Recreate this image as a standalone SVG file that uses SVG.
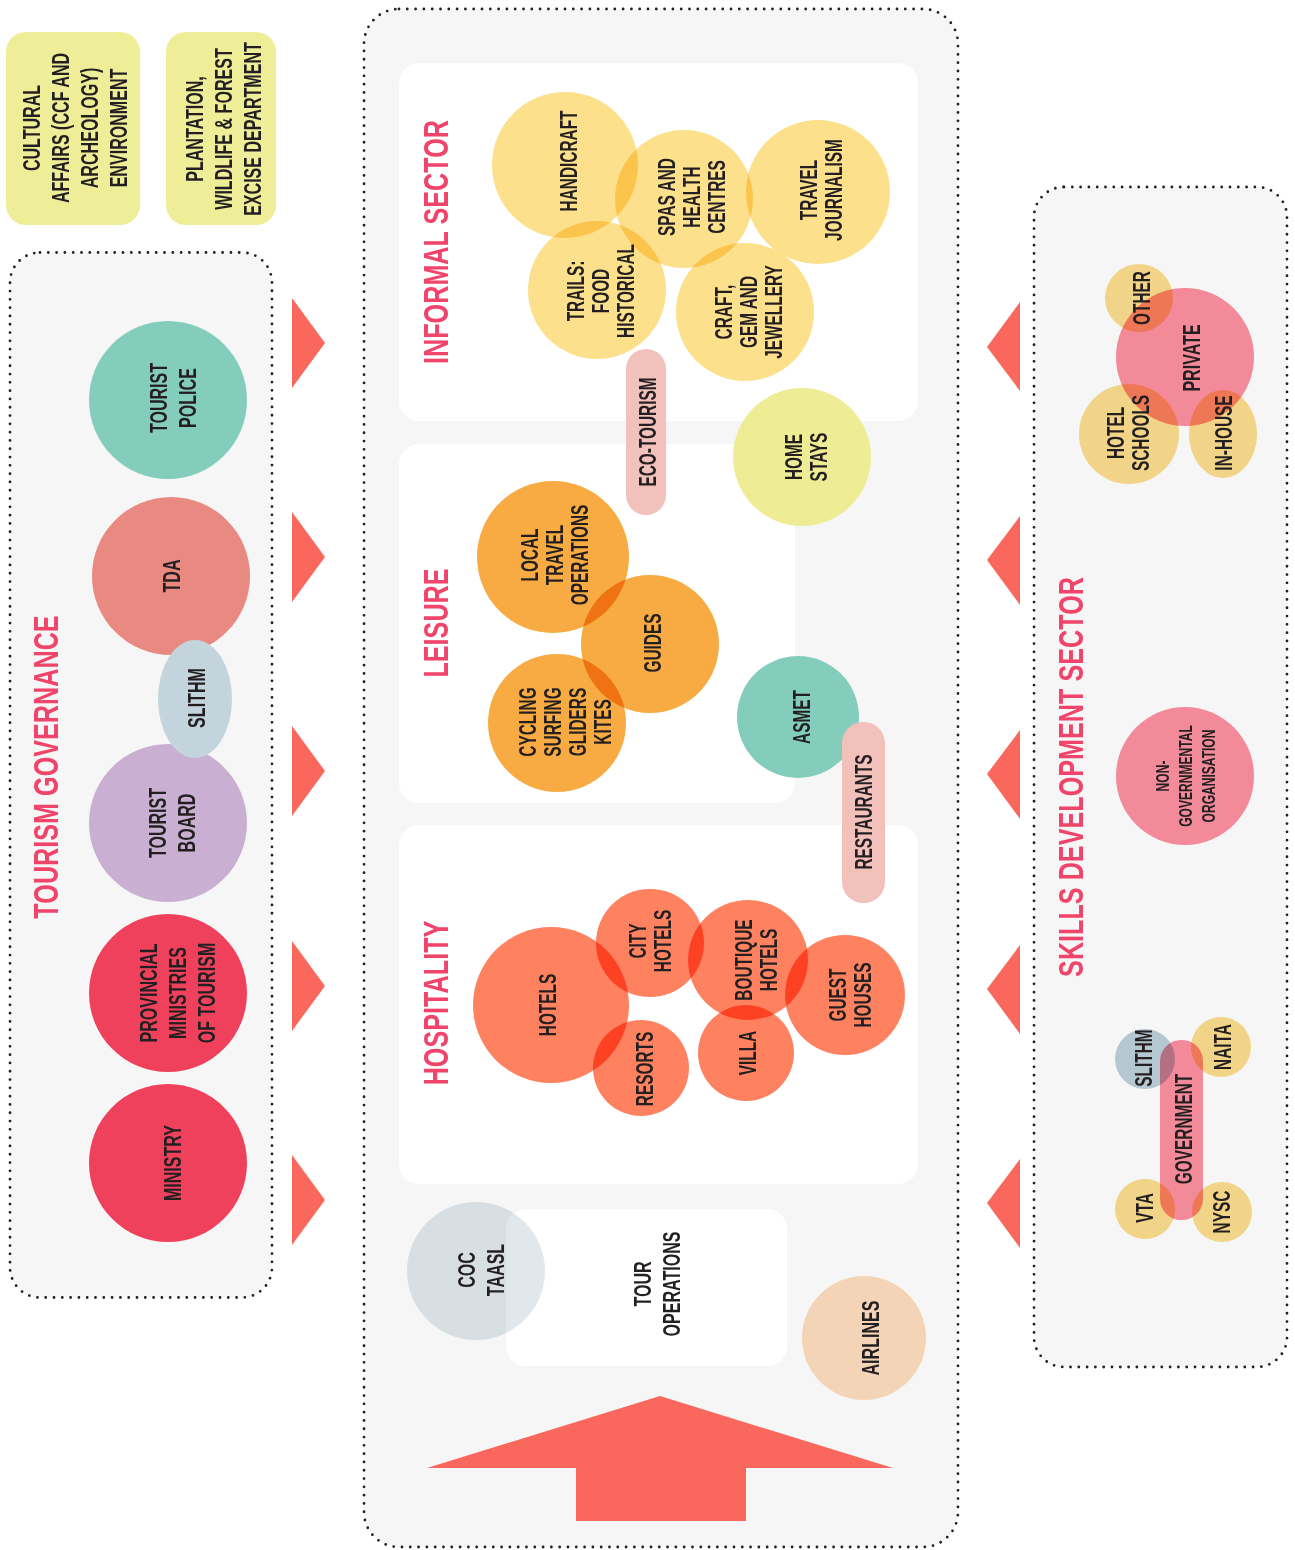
<svg xmlns="http://www.w3.org/2000/svg" width="1295" height="1550" viewBox="0 0 1295 1550">
<style>
text{font-family:"Liberation Sans",Arial,sans-serif;fill:#231f20;text-anchor:middle}
.l{font-size:23px;font-weight:bold}
.l2{font-size:24px;font-weight:bold}
.l3{font-size:18px;font-weight:bold}
.t{font-size:36px;font-weight:bold;fill:#f0446a}
.dot{fill:#f6f6f6;stroke:#231f20;stroke-width:2.8;stroke-dasharray:0 8.3;stroke-linecap:round}
.wb{fill:#ffffff}
.m{mix-blend-mode:multiply}
.yel{fill:#fde08c}
.org{fill:#f7ab42}
.hos{fill:#fe8160}
.pill{fill:#f2c1bb}
.pk{fill:#fc8fa0}
.yl2{fill:#fadc8c}
.arr{fill:#fa675d}
</style>

<!-- top boxes -->
<g id="cultural-affairs">
<rect x="6" y="32" width="134" height="193" rx="20" fill="#eeed98"/>
<text class="l2" transform="translate(75,128) rotate(-90) scale(0.67,1)"><tspan x="0" y="-34.9">CULTURAL</tspan><tspan x="0" y="-5.9">AFFAIRS (CCF AND</tspan><tspan x="0" y="23.1">ARCHEOLOGY)</tspan><tspan x="0" y="52.1">ENVIRONMENT</tspan></text>
</g>
<g id="plantation">
<rect x="166" y="32" width="110" height="193" rx="20" fill="#eeed98"/>
<text class="l2" transform="translate(223,129) rotate(-90) scale(0.67,1)"><tspan x="0" y="-20.4">PLANTATION,</tspan><tspan x="0" y="8.6">WILDLIFE &amp; FOREST</tspan><tspan x="0" y="37.6">EXCISE DEPARTMENT</tspan></text>
</g>

<!-- containers -->
<g id="tourism-governance">
<rect class="dot" x="10" y="252.5" width="262" height="1045" rx="30"/>
<text class="t" transform="translate(45,767) rotate(-90) scale(0.7,1)" x="0" y="12.9">TOURISM GOVERNANCE</text>
</g>
<g id="industry">
<rect class="dot" x="364" y="9" width="594" height="1538" rx="35"/>
</g>
<g id="skills-development-sector">
<rect class="dot" x="1034" y="187" width="253" height="1180" rx="30"/>
<text class="t" transform="translate(1070,777) rotate(-90) scale(0.7,1)" x="0" y="12.9">SKILLS DEVELOPMENT SECTOR</text>
</g>

<!-- governance nodes -->
<g id="tourist-police"><circle cx="168" cy="400" r="79" fill="#84cdbd"/>
<text class="l2" transform="translate(173,398) rotate(-90) scale(0.67,1)"><tspan x="0" y="-5.9">TOURIST</tspan><tspan x="0" y="23.1">POLICE</tspan></text></g>
<g id="tda"><circle cx="171" cy="576" r="79" fill="#e88a82"/>
<text class="l2" transform="translate(171,576) rotate(-90) scale(0.67,1)" x="0" y="8.6">TDA</text></g>
<g id="tourist-board"><circle cx="168" cy="823" r="79" fill="#c9b0d3"/>
<text class="l2" transform="translate(172,823) rotate(-90) scale(0.67,1)"><tspan x="0" y="-5.9">TOURIST</tspan><tspan x="0" y="23.1">BOARD</tspan></text></g>
<g id="slithm-gov"><ellipse cx="195" cy="699" rx="37" ry="59" fill="#c3d4dc"/>
<text class="l2" transform="translate(196,698) rotate(-90) scale(0.67,1)" x="0" y="8.6">SLITHM</text></g>
<g id="provincial-ministries"><circle cx="168" cy="993" r="79" fill="#ef405c"/>
<text class="l2" transform="translate(177,993) rotate(-90) scale(0.67,1)"><tspan x="0" y="-20.4">PROVINCIAL</tspan><tspan x="0" y="8.6">MINISTRIES</tspan><tspan x="0" y="37.6">OF TOURISM</tspan></text></g>
<g id="ministry"><circle cx="168" cy="1163" r="79" fill="#ef405c"/>
<text class="l2" transform="translate(172,1163) rotate(-90) scale(0.67,1)" x="0" y="8.6">MINISTRY</text></g>

<!-- informal sector -->
<g id="informal-sector">
<rect class="wb" x="399" y="63" width="519" height="358" rx="20"/>
<text class="t" transform="translate(435,242) rotate(-90) scale(0.7,1)" x="0" y="12.9">INFORMAL SECTOR</text>
</g>
<g id="handicraft"><circle class="m yel" cx="565" cy="165" r="73"/>
<text class="l" transform="translate(569,161) rotate(-90) scale(0.67,1)" x="0" y="8.2">HANDICRAFT</text></g>
<g id="spas"><circle class="m yel" cx="684" cy="199" r="69"/>
<text class="l" transform="translate(692,197) rotate(-90) scale(0.67,1)"><tspan x="0" y="-16.8">SPAS AND</tspan><tspan x="0" y="8.2">HEALTH</tspan><tspan x="0" y="33.2">CENTRES</tspan></text></g>
<g id="travel-journalism"><circle class="m yel" cx="818" cy="192" r="72"/>
<text class="l" transform="translate(821,190) rotate(-90) scale(0.67,1)"><tspan x="0" y="-4.2">TRAVEL</tspan><tspan x="0" y="20.8">JOURNALISM</tspan></text></g>
<g id="trails"><circle class="m yel" cx="597" cy="290" r="69"/>
<text class="l" transform="translate(601,291) rotate(-90) scale(0.67,1)"><tspan x="0" y="-16.8">TRAILS:</tspan><tspan x="0" y="8.2">FOOD</tspan><tspan x="0" y="33.2">HISTORICAL</tspan></text></g>
<g id="craft-gem"><circle class="m yel" cx="745" cy="312" r="69"/>
<text class="l" transform="translate(749,312) rotate(-90) scale(0.67,1)"><tspan x="0" y="-16.8">CRAFT,</tspan><tspan x="0" y="8.2">GEM AND</tspan><tspan x="0" y="33.2">JEWELLERY</tspan></text></g>

<!-- leisure -->
<g id="leisure">
<rect class="wb" x="399" y="444" width="396" height="359" rx="20"/>
<text class="t" transform="translate(435,623) rotate(-90) scale(0.7,1)" x="0" y="12.9">LEISURE</text>
</g>
<g id="home-stays"><circle cx="802" cy="457" r="69" fill="#eeed96"/>
<text class="l" transform="translate(806,457) rotate(-90) scale(0.67,1)"><tspan x="0" y="-4.2">HOME</tspan><tspan x="0" y="20.8">STAYS</tspan></text></g>
<g id="eco-tourism"><rect class="pill" x="626" y="349" width="40" height="166" rx="20"/>
<text class="l" transform="translate(648,432) rotate(-90) scale(0.67,1)" x="0" y="8.2">ECO-TOURISM</text></g>
<g id="local-travel"><circle class="m org" cx="553" cy="557" r="76"/>
<text class="l" transform="translate(555,555) rotate(-90) scale(0.67,1)"><tspan x="0" y="-16.8">LOCAL</tspan><tspan x="0" y="8.2">TRAVEL</tspan><tspan x="0" y="33.2">OPERATIONS</tspan></text></g>
<g id="guides"><circle class="m org" cx="650" cy="644" r="69"/>
<text class="l" transform="translate(653,643) rotate(-90) scale(0.67,1)" x="0" y="8.2">GUIDES</text></g>
<g id="cycling"><circle class="m org" cx="557" cy="723" r="69"/>
<text class="l" transform="translate(565,722) rotate(-90) scale(0.67,1)"><tspan x="0" y="-29.2">CYCLING</tspan><tspan x="0" y="-4.2">SURFING</tspan><tspan x="0" y="20.8">GLIDERS</tspan><tspan x="0" y="45.8">KITES</tspan></text></g>
<g id="asmet"><circle cx="798" cy="717" r="61" fill="#84cdbd"/>
<text class="l" transform="translate(802,717) rotate(-90) scale(0.67,1)" x="0" y="8.2">ASMET</text></g>

<!-- hospitality -->
<g id="hospitality">
<rect class="wb" x="399" y="825" width="519" height="359" rx="20"/>
<text class="t" transform="translate(435,1003) rotate(-90) scale(0.7,1)" x="0" y="12.9">HOSPITALITY</text>
</g>
<g id="restaurants"><rect class="pill" x="842" y="722" width="43" height="181" rx="21"/>
<text class="l" transform="translate(864,812) rotate(-90) scale(0.67,1)" x="0" y="8.2">RESTAURANTS</text></g>
<g id="hotels"><circle class="m hos" cx="551" cy="1005" r="78"/>
<text class="l" transform="translate(548,1005) rotate(-90) scale(0.67,1)" x="0" y="8.2">HOTELS</text></g>
<g id="city-hotels"><circle class="m hos" cx="650" cy="943" r="54"/>
<text class="l" transform="translate(650,941) rotate(-90) scale(0.67,1)"><tspan x="0" y="-4.2">CITY</tspan><tspan x="0" y="20.8">HOTELS</tspan></text></g>
<g id="boutique-hotels"><circle class="m hos" cx="748" cy="960" r="60"/>
<text class="l" transform="translate(756,960) rotate(-90) scale(0.67,1)"><tspan x="0" y="-4.2">BOUTIQUE</tspan><tspan x="0" y="20.8">HOTELS</tspan></text></g>
<g id="guest-houses"><circle class="m hos" cx="845" cy="995" r="60"/>
<text class="l" transform="translate(850,995) rotate(-90) scale(0.67,1)"><tspan x="0" y="-4.2">GUEST</tspan><tspan x="0" y="20.8">HOUSES</tspan></text></g>
<g id="resorts"><circle class="m hos" cx="641" cy="1068" r="48"/>
<text class="l" transform="translate(645,1069) rotate(-90) scale(0.67,1)" x="0" y="8.2">RESORTS</text></g>
<g id="villa"><circle class="m hos" cx="746" cy="1053" r="48"/>
<text class="l" transform="translate(748,1053) rotate(-90) scale(0.67,1)" x="0" y="8.2">VILLA</text></g>

<!-- tour operations -->
<g id="tour-operations"><rect class="wb" x="506" y="1209" width="281" height="157" rx="20"/>
<text class="l2" transform="translate(657,1284) rotate(-90) scale(0.67,1)"><tspan x="0" y="-5.9">TOUR</tspan><tspan x="0" y="23.1">OPERATIONS</tspan></text></g>
<g id="coc-taasl"><circle class="m" cx="476" cy="1271" r="69" fill="#e0e8ec"/>
<text class="l2" transform="translate(481,1270) rotate(-90) scale(0.67,1)"><tspan x="0" y="-5.9">COC</tspan><tspan x="0" y="23.1">TAASL</tspan></text></g>
<g id="airlines"><circle cx="864" cy="1338" r="62" fill="#f4d4b6"/>
<text class="l2" transform="translate(870,1338) rotate(-90) scale(0.67,1)" x="0" y="8.6">AIRLINES</text></g>

<!-- skills nodes -->
<g id="private"><circle class="m pk" cx="1185" cy="357" r="69"/>
<text class="l2" transform="translate(1191,358) rotate(-90) scale(0.67,1)" x="0" y="8.6">PRIVATE</text></g>
<g id="other"><circle class="m yl2" cx="1139" cy="298" r="34"/>
<text class="l" transform="translate(1142,298) rotate(-90) scale(0.67,1)" x="0" y="8.2">OTHER</text></g>
<g id="hotel-schools"><circle class="m yl2" cx="1129" cy="434" r="50"/>
<text class="l" transform="translate(1128,433) rotate(-90) scale(0.67,1)"><tspan x="0" y="-4.2">HOTEL</tspan><tspan x="0" y="20.8">SCHOOLS</tspan></text></g>
<g id="in-house"><ellipse class="m yl2" cx="1223" cy="434" rx="34" ry="44"/>
<text class="l" transform="translate(1224,433) rotate(-90) scale(0.67,1)" x="0" y="8.2">IN-HOUSE</text></g>
<g id="ngo"><circle class="m pk" cx="1185" cy="776" r="69"/>
<text class="l3" transform="translate(1186,776) rotate(-90) scale(0.67,1)"><tspan x="0" y="-16.6">NON-</tspan><tspan x="0" y="6.4">GOVERNMENTAL</tspan><tspan x="0" y="29.4">ORGANISATION</tspan></text></g>
<g id="government"><rect class="m pk" x="1160" y="1040" width="43" height="180" rx="21"/>
<text class="l" transform="translate(1184,1129) rotate(-90) scale(0.67,1)" x="0" y="8.2">GOVERNMENT</text></g>
<g id="slithm-skills"><circle class="m" cx="1145" cy="1059" r="30" fill="#bccfd8"/>
<text class="l" transform="translate(1144,1058) rotate(-90) scale(0.67,1)" x="0" y="8.2">SLITHM</text></g>
<g id="naita"><circle class="m yl2" cx="1221" cy="1047" r="30"/>
<text class="l" transform="translate(1223,1047) rotate(-90) scale(0.67,1)" x="0" y="8.2">NAITA</text></g>
<g id="vta"><circle class="m yl2" cx="1145" cy="1209" r="30"/>
<text class="l" transform="translate(1145,1208) rotate(-90) scale(0.67,1)" x="0" y="8.2">VTA</text></g>
<g id="nysc"><circle class="m yl2" cx="1222" cy="1212" r="30"/>
<text class="l" transform="translate(1222,1212) rotate(-90) scale(0.67,1)" x="0" y="8.2">NYSC</text></g>

<!-- connectors -->
<g id="connectors">
<polygon class="arr" points="292,298 325,343 292,388"/>
<polygon class="arr" points="292,512 325,557 292,602"/>
<polygon class="arr" points="292,726 325,771 292,816"/>
<polygon class="arr" points="292,941 325,986 292,1031"/>
<polygon class="arr" points="292,1155 325,1200 292,1245"/>
<polygon class="arr" points="1020,302 987,347 1020,391"/>
<polygon class="arr" points="1020,516 987,560 1020,605"/>
<polygon class="arr" points="1020,730 987,774 1020,819"/>
<polygon class="arr" points="1020,945 987,989 1020,1034"/>
<polygon class="arr" points="1020,1159 987,1203 1020,1248"/>
<polygon class="arr" points="660,1396 893,1468 746,1468 746,1521 576,1521 576,1468 427,1468"/>
</g>
</svg>
